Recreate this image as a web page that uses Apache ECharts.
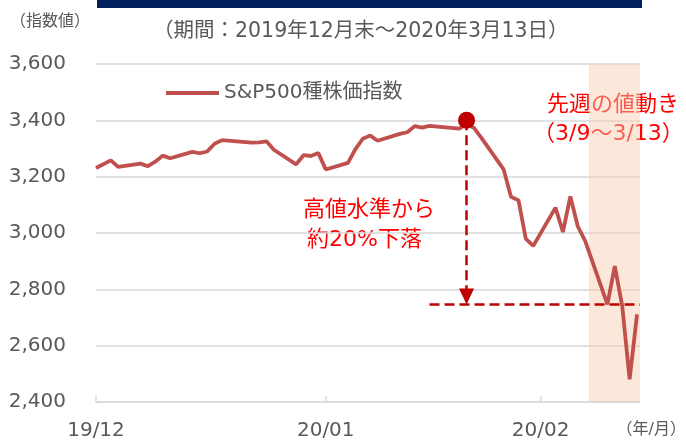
<!DOCTYPE html>
<html>
<head>
<meta charset="utf-8">
<script src="https://cdn.jsdelivr.net/npm/echarts@6/dist/echarts.min.js"></script>
<style>
html,body{margin:0;padding:0;background:#fff;}
#chart{width:686px;height:443px;}
</style>
</head>
<body>
<div id="chart"></div>
<script>
// 営業日と終値（S&P500）
var dates = ['2019-12-31',
  '2020-01-02','2020-01-03','2020-01-06','2020-01-07','2020-01-08','2020-01-09','2020-01-10',
  '2020-01-13','2020-01-14','2020-01-15','2020-01-16','2020-01-17','2020-01-21','2020-01-22',
  '2020-01-23','2020-01-24','2020-01-27','2020-01-28','2020-01-29','2020-01-30','2020-01-31',
  '2020-02-03','2020-02-04','2020-02-05','2020-02-06','2020-02-07','2020-02-10','2020-02-11',
  '2020-02-12','2020-02-13','2020-02-14','2020-02-18','2020-02-19','2020-02-20','2020-02-21',
  '2020-02-24','2020-02-25','2020-02-26','2020-02-27','2020-02-28',
  '2020-03-02','2020-03-03','2020-03-04','2020-03-05','2020-03-06',
  '2020-03-09','2020-03-10','2020-03-11','2020-03-12','2020-03-13'];
var closes = [3230.78,
  3257.85,3234.85,3246.28,3237.18,3253.05,3274.70,3265.35,
  3288.13,3283.15,3289.29,3316.81,3329.62,3320.79,3321.75,
  3325.54,3295.47,3243.63,3276.24,3273.40,3283.66,3225.52,
  3248.92,3297.59,3334.69,3345.78,3327.71,3352.09,3357.75,
  3379.45,3373.94,3380.16,3370.29,3386.15,3373.23,3337.75,
  3225.89,3128.21,3116.39,2978.76,2954.22,
  3090.23,3003.37,3130.12,3023.94,2972.37,
  2746.56,2882.23,2741.38,2480.64,2711.02];
// 軸目盛り（経過日数と表示）
var tickDays = [0, 31, 60];
var tickLabels = ['19/12', '20/01', '20/02'];
var yTicks = [2400, 2600, 2800, 3000, 3200, 3400, 3600];

var peakDay = 50;       // 2/19 高値
var peakMark = 3400;
var lowLevel = 2746.56; // 3/9 終値
var shadeFrom = 66.5, shadeTo = 73.4;

var base = Date.UTC(2019, 11, 31);
var dayOf = function(s){
  var p = s.split('-');
  return Math.round((Date.UTC(+p[0], +p[1]-1, +p[2]) - base) / 86400000);
};
var seriesData = dates.map(function(d, i){ return [dayOf(d), closes[i]]; });

var FONT = '"DejaVu Sans", "Noto Sans CJK JP", sans-serif';
var GREY = '#595959';
var RED = '#FF0000';
var DRED = '#C00000';

var chart = echarts.init(document.getElementById('chart'));
chart.setOption({
  animation: false,
  textStyle: {fontFamily: FONT},
  grid: {left: 96, right: 46, top: 64, bottom: 41},
  legend: {
    data: ['S&P500種株価指数'],
    left: 161, top: 78,
    icon: 'rect', itemWidth: 53, itemHeight: 4, itemGap: 4,
    textStyle: {fontSize: 20, color: GREY, fontFamily: FONT}
  },
  xAxis: {
    type: 'value', min: 0, max: 73.4,
    splitLine: {show: false},
    axisLine: {lineStyle: {color: '#D9D9D9', width: 1.5}},
    axisTick: {show: true, inside: true, length: 6, customValues: tickDays,
      lineStyle: {color: '#D9D9D9', width: 1.5}},
    axisLabel: {
      customValues: tickDays, margin: 19, fontSize: 20, color: GREY, fontFamily: FONT,
      formatter: function(v){ var i = tickDays.indexOf(v); return i >= 0 ? tickLabels[i] : ''; }
    }
  },
  yAxis: {
    type: 'value', min: yTicks[0], max: yTicks[yTicks.length-1], interval: 200,
    axisLine: {show: false}, axisTick: {show: false},
    splitLine: {lineStyle: {color: '#D9D9D9', width: 1.5}},
    axisLabel: {margin: 30, fontSize: 20, color: GREY, fontFamily: FONT,
      formatter: function(v){ return echarts.format.addCommas(v); }}
  },
  series: [{
    name: 'S&P500種株価指数',
    type: 'line',
    data: seriesData,
    showSymbol: false,
    color: '#C0504D',
    lineStyle: {width: 3.8, color: '#C0504D'},
    markArea: {
      silent: true,
      itemStyle: {color: 'rgba(248,203,173,0.45)'},
      data: [[{xAxis: shadeFrom}, {xAxis: shadeTo}]]
    },
    markLine: {
      silent: true,
      symbol: 'none',
      label: {show: false},
      lineStyle: {type: [10, 5], color: DRED, width: 2.5},
      data: [
        [{coord: [peakDay, peakMark], symbol: 'none'},
         {coord: [peakDay, lowLevel + 28], symbol: 'triangle', symbolSize: [15, 16]}],
        [{coord: [45, lowLevel]}, {coord: [shadeTo, lowLevel]}]
      ]
    },
    markPoint: {
      silent: true,
      symbol: 'circle', symbolSize: 17,
      itemStyle: {color: DRED},
      label: {show: false},
      data: [{coord: [peakDay, peakMark]}]
    }
  }],
  graphic: [
    {type: 'rect', left: 97, top: 0, shape: {width: 545, height: 8}, style: {fill: '#002060'}},
    {type: 'text', left: 10, top: 14, style: {text: '（指数値）', fontSize: 16, fill: GREY, fontFamily: FONT}},
    {type: 'text', left: 153, top: 21, style: {text: '（期間：2019年12月末～2020年3月13日）', fontSize: 20.5, fill: GREY, fontFamily: FONT}},
    {type: 'text', right: 0, top: 422, style: {text: '（年/月）', fontSize: 16, fill: GREY, fontFamily: FONT}},
    {type: 'text', left: 547, top: 94, style: {text: '先週の値動き', fontSize: 22, fill: RED, fontFamily: FONT}},
    {type: 'text', left: 533, top: 123, style: {text: '（3/9～3/13）', fontSize: 22, fill: RED, fontFamily: FONT}},
    {type: 'text', left: 303, top: 199, style: {text: '高値水準から', fontSize: 22, fill: RED, fontFamily: FONT}},
    {type: 'text', left: 307, top: 229, style: {text: '約20%下落', fontSize: 22, fill: RED, fontFamily: FONT}}
  ]
});
</script>
</body>
</html>
